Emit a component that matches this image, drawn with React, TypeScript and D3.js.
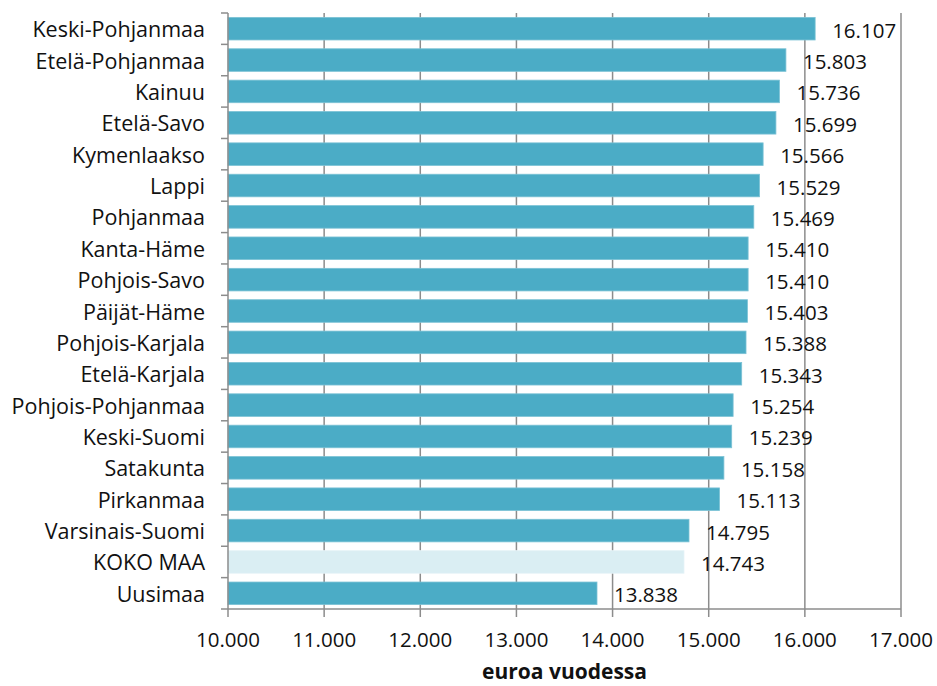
import React from "react";
import * as d3 from "d3";

const categories = [
  "Keski-Pohjanmaa",
  "Etelä-Pohjanmaa",
  "Kainuu",
  "Etelä-Savo",
  "Kymenlaakso",
  "Lappi",
  "Pohjanmaa",
  "Kanta-Häme",
  "Pohjois-Savo",
  "Päijät-Häme",
  "Pohjois-Karjala",
  "Etelä-Karjala",
  "Pohjois-Pohjanmaa",
  "Keski-Suomi",
  "Satakunta",
  "Pirkanmaa",
  "Varsinais-Suomi",
  "KOKO MAA",
  "Uusimaa",
];
const values = [
  16107, 15803, 15736, 15699, 15566, 15529, 15469, 15410, 15410, 15403, 15388,
  15343, 15254, 15239, 15158, 15113, 14795, 14743, 13838,
];
const highlight = "KOKO MAA";
const xTicks = [10000, 11000, 12000, 13000, 14000, 15000, 16000, 17000];
const xDomain = [10000, 17000];
const axisTitle = "euroa vuodessa";

const W = 937;
const H = 686;
const M = { left: 228, right: 36, top: 13, bottom: 77 };
const FONT = "'Open Sans', 'Noto Sans', sans-serif";
const fmt = (v: number) => {
  const s = String(Math.round(v));
  return s.replace(/\B(?=(\d{3})+(?!\d))/g, ".");
};

export default function App() {
  const x = d3.scaleLinear().domain(xDomain).range([M.left, W - M.right]);
  const y = d3
    .scaleBand<string>()
    .domain(categories)
    .range([M.top, H - M.bottom])
    .paddingInner(0.28)
    .paddingOuter(0.14);
  const y0 = M.top;
  const y1 = H - M.bottom;
  const grid = "#8c8c8c";
  const n = categories.length;
  const boundaries = d3.range(n + 1).map((i) => y0 + (i * (y1 - y0)) / n);

  return (
    <svg
      width={W}
      height={H}
      style={{ position: "absolute", left: 0, top: 0, background: "#fff" }}
      fontFamily={FONT}
    >
      {xTicks.slice(1).map((t) => (
        <line key={"g" + t} x1={x(t)} x2={x(t)} y1={y0} y2={y1 + 8} stroke={grid} strokeWidth={1.5} />
      ))}
      {categories.map((c, i) => (
        <rect
          key={c}
          x={x(xDomain[0])}
          y={y(c)!}
          width={x(values[i]) - x(xDomain[0])}
          height={y.bandwidth()}
          fill={c === highlight ? "#DAEEF3" : "#4BACC6"}
          stroke={c === highlight ? "#e6f3f7" : "#7cc2d5"}
          strokeWidth={0.8}
        />
      ))}
      {categories.map((c, i) => (
        <text
          key={"v" + c}
          x={x(values[i]) + 17}
          y={y(c)! + y.bandwidth() / 2 + 1}
          dominantBaseline="central"
          fontSize={20.5}
          fill="#111"
        >
          {fmt(values[i])}
        </text>
      ))}
      <line x1={M.left} x2={M.left} y1={y0} y2={y1} stroke={grid} strokeWidth={1.5} />
      {boundaries.map((b, i) => (
        <line key={"yt" + i} x1={M.left - 7} x2={M.left} y1={b} y2={b} stroke={grid} strokeWidth={1.5} />
      ))}
      {categories.map((c) => (
        <text
          key={"c" + c}
          x={M.left - 23}
          y={y(c)! + y.bandwidth() / 2}
          textAnchor="end"
          dominantBaseline="central"
          fontSize={21.5}
          fill="#111"
        >
          {c}
        </text>
      ))}
      <line x1={M.left} x2={W - M.right} y1={y1} y2={y1} stroke={grid} strokeWidth={1.5} />
      <line x1={M.left} x2={M.left} y1={y1} y2={y1 + 8} stroke={grid} strokeWidth={1.5} />
      {xTicks.map((t) => (
        <text
          key={"xt" + t}
          x={x(t)}
          y={y1 + 38}
          textAnchor="middle"
          fontSize={20.5}
          fill="#111"
        >
          {fmt(t)}
        </text>
      ))}
      <text
        x={(x(xDomain[0]) + x(xDomain[1])) / 2}
        y={679}
        textAnchor="middle"
        fontSize={21}
        fontWeight="bold"
        fill="#111"
      >
        {axisTitle}
      </text>
    </svg>
  );
}
